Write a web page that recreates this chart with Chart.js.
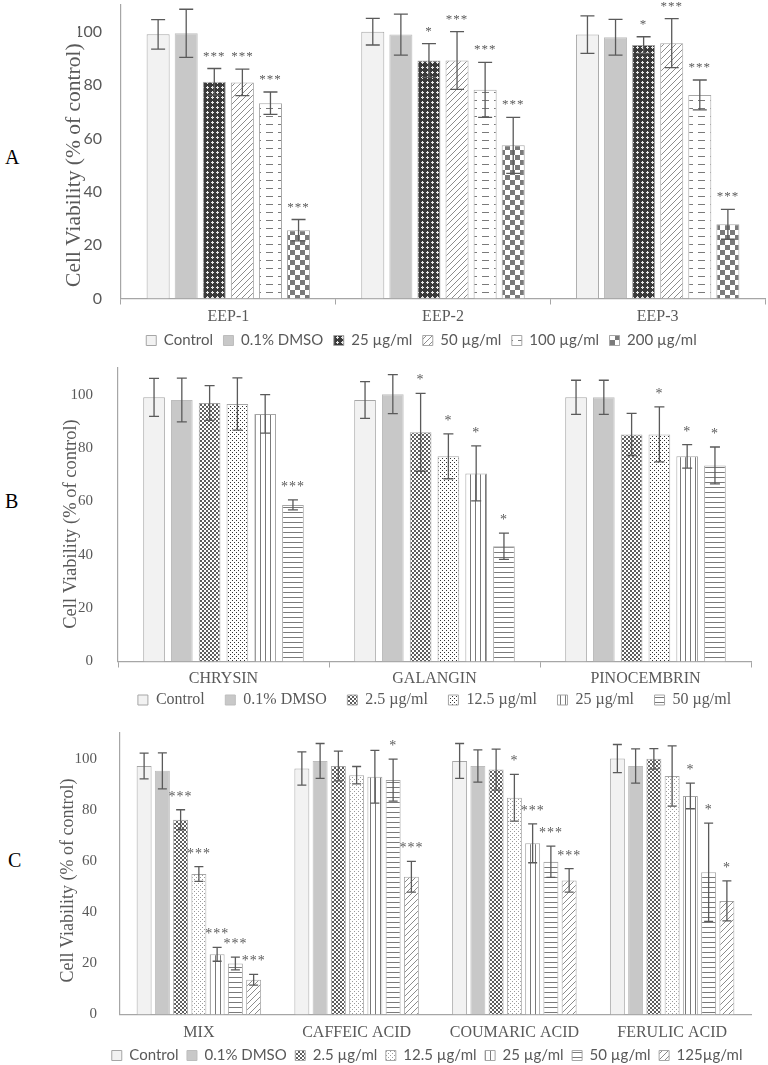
<!DOCTYPE html>
<html><head><meta charset="utf-8">
<script src="https://cdn.jsdelivr.net/npm/chart.js@4.4.1/dist/chart.umd.min.js"></script>
<style>
html,body{margin:0;padding:0;background:#fff;}
body{width:768px;height:1065px;position:relative;overflow:hidden;}
.wrap{position:absolute;left:0;width:768px;}
.letter{position:absolute;font-family:"Liberation Serif",serif;font-size:20px;color:#000;line-height:1;}
</style></head><body>
<div class="letter" style="left:5px;top:147px">A</div>
<div class="letter" style="left:5px;top:491px">B</div>
<div class="letter" style="left:8px;top:850px">C</div>
<div class="wrap" style="top:0;height:358px"><canvas id="cA"></canvas></div>
<div class="wrap" style="top:352px;height:366px"><canvas id="cB"></canvas></div>
<div class="wrap" style="top:717px;height:356px"><canvas id="cC"></canvas></div>
<script>
// ---------- DATA ----------
const catsA = ['EEP-1', 'EEP-2', 'EEP-3'];
const seriesA = ['Control', '0.1% DMSO', '25 µg/ml', '50 µg/ml', '100 µg/ml', '200 µg/ml'];
const valuesA = [[99, 100, 98.9], [99.4, 98.9, 97.9], [81.2, 89.2, 95], [81, 89.2, 95.7], [73.2, 78.2, 76.3], [25.6, 57.4, 27.8]];
const errorsA = [[5.5, 5, 7], [9, 7.7, 6.7], [5, 6.3, 3.1], [5, 10.8, 9.2], [4.2, 10.3, 5.6], [4, 10.5, 5.6]];
const sigA = [['', '', ''], ['', '', ''], ['***', '*', '*'], ['***', '***', '***'], ['***', '***', '***'], ['***', '***', '***']];

const catsB = ['CHRYSIN', 'GALANGIN', 'PINOCEMBRIN'];
const seriesB = ['Control', '0.1% DMSO', '2.5 µg/ml', '12.5 µg/ml', '25 µg/ml', '50 µg/ml'];
const valuesB = [[99, 98, 99], [98, 100.2, 99], [96.9, 85.9, 85.1], [96.5, 76.9, 85.1], [92.8, 70.5, 76.9], [58.7, 43.2, 73.5]];
const errorsB = [[7.1, 6.9, 6.4], [8.2, 7.3, 6.4], [6.5, 14.6, 7.9], [9.8, 8.4, 10.3], [7.2, 10.3, 4.4], [1.9, 4.9, 6.9]];
const sigB = [['', '', ''], ['', '', ''], ['', '*', ''], ['', '*', '*'], ['', '*', '*'], ['***', '*', '*']];

const catsC = ['MIX', 'CAFFEIC ACID', 'COUMARIC ACID', 'FERULIC ACID'];
const seriesC = ['Control', '0.1% DMSO', '2.5 µg/ml', '12.5 µg/ml', '25 µg/ml', '50 µg/ml', '125µg/ml'];
const valuesC = [[97.1, 96.1, 99.1, 100], [95.2, 99.1, 97.1, 97.1], [76.1, 97.1, 95.7, 99.9], [54.9, 93.5, 84.7, 93.2], [23.5, 92.9, 66.9, 85.4], [19.9, 91.6, 59.7, 55.6], [13.6, 53.8, 52.4, 44.4]];
const errorsC = [[5, 6.5, 6.8, 5.5], [7, 6.8, 6.3, 6.7], [3.9, 5.8, 8, 4], [2.9, 3.4, 9.1, 11.8], [2.7, 10.3, 7.6, 5], [2.5, 8.2, 6.1, 19.2], [2.1, 6, 4.6, 7.8]];
const sigC = [['', '', '', ''], ['', '', '', ''], ['***', '', '', ''], ['***', '', '*', ''], ['***', '', '***', '*'], ['***', '*', '***', '*'], ['***', '***', '***', '*']];

const yTitle = 'Cell Viability (% of control)';

// ---------- PATTERNS ----------
function pat(w, h, draw) {
  const c = document.createElement('canvas'); c.width = w; c.height = h;
  const g = c.getContext('2d'); draw(g, w, h);
  return g.createPattern(c, 'repeat');
}
const P = {
  control: '#f2f2f2',
  dmso: '#c8c8c8',
  darkGrid: pat(5, 5, g => { g.fillStyle = '#3a3a3a'; g.fillRect(0, 0, 5, 5); g.fillStyle = '#e8e8e8'; g.fillRect(1, 2, 3, 1); g.fillRect(2, 1, 1, 3); }),
  diag: pat(6, 6, g => { g.fillStyle = '#fff'; g.fillRect(0, 0, 6, 6); g.strokeStyle = '#8c8c8c'; g.lineWidth = 1;
    g.beginPath(); g.moveTo(-1, 7); g.lineTo(7, -1); g.moveTo(-1, 1); g.lineTo(1, -1); g.moveTo(5, 7); g.lineTo(7, 5); g.stroke(); }),
  hdash: pat(12, 8, g => { g.fillStyle = '#fff'; g.fillRect(0, 0, 12, 8); g.fillStyle = '#7a7a7a'; g.fillRect(2, 4, 7, 1); }),
  bigCheck: pat(10, 10, g => { g.fillStyle = '#fff'; g.fillRect(0, 0, 10, 10); g.fillStyle = '#7a7a7a'; g.fillRect(0, 0, 5, 5); g.fillRect(5, 5, 5, 5); }),
  smallCheck: pat(4, 4, g => { g.fillStyle = '#fff'; g.fillRect(0, 0, 4, 4); g.fillStyle = '#5e5e5e'; g.fillRect(0, 0, 2, 2); g.fillRect(2, 2, 2, 2); }),
  dots: pat(4, 4, g => { g.fillStyle = '#fff'; g.fillRect(0, 0, 4, 4); g.fillStyle = '#333'; g.fillRect(0, 0, 1, 1); g.fillRect(2, 2, 1, 1); }),
  lightDots: pat(4, 4, g => { g.fillStyle = '#fff'; g.fillRect(0, 0, 4, 4); g.fillStyle = '#9a9a9a'; g.fillRect(0, 0, 1, 1); g.fillRect(2, 2, 1, 1); }),
  vlines: pat(5, 1, g => { g.fillStyle = '#fff'; g.fillRect(0, 0, 5, 1); g.fillStyle = '#7a7a7a'; g.fillRect(0, 0, 1, 1); }),
  hlines: pat(1, 5, g => { g.fillStyle = '#fff'; g.fillRect(0, 0, 1, 5); g.fillStyle = '#7a7a7a'; g.fillRect(0, 0, 1, 1); })
};
const fillsA = [P.control, P.dmso, P.darkGrid, P.diag, P.hdash, P.bigCheck];
const fillsB = [P.control, P.dmso, P.smallCheck, P.dots, P.vlines, P.hlines];
const fillsC = [P.control, P.dmso, P.smallCheck, P.lightDots, P.vlines, P.hlines, P.diag];

// ---------- ERROR BARS + SIGNIFICANCE ----------
const errorBars = {
  id: 'errorBars',
  afterDatasetsDraw(chart, args, o) {
    const ctx = chart.ctx, ys = chart.scales.y;
    chart.data.datasets.forEach((ds, i) => {
      const meta = chart.getDatasetMeta(i);
      meta.data.forEach((bar, j) => {
        const v = ds.data[j], e = ds.err[j];
        const yt = ys.getPixelForValue(v + e), yb = ys.getPixelForValue(v - e), x = bar.x;
        ctx.save();
        ctx.strokeStyle = '#5a5a5a'; ctx.lineWidth = 1.3;
        ctx.beginPath();
        ctx.moveTo(x, yt); ctx.lineTo(x, yb);
        ctx.moveTo(x - o.cap, yt); ctx.lineTo(x + o.cap, yt);
        ctx.moveTo(x - o.cap, yb); ctx.lineTo(x + o.cap, yb);
        ctx.stroke();
        if (ds.sig[j]) {
          ctx.fillStyle = '#5a5a5a'; ctx.font = o.sigFont; ctx.textAlign = 'center'; ctx.textBaseline = 'alphabetic';
          ctx.letterSpacing = '1px';
          ctx.fillText(ds.sig[j], x, yt - o.sigGap);
        }
        ctx.restore();
      });
    });
  }
};

function panel(id, cats, names, vals, errs, sigs, fills, o) {
  const datasets = names.map((n, i) => ({
    label: n, data: vals[i], err: errs[i], sig: sigs[i],
    backgroundColor: fills[i], borderColor: i === 1 ? '#bdbdbd' : '#a6a6a6', borderWidth: 1,
    barPercentage: o.barPct, categoryPercentage: o.catPct
  }));
  const spacer = '\u00a0'.repeat(o.legSpace);
  return new Chart(document.getElementById(id), {
    type: 'bar',
    data: { labels: cats, datasets },
    plugins: [errorBars],
    options: {
      responsive: true, maintainAspectRatio: false, animation: false,
      layout: { padding: { left: o.left, right: o.right, top: o.top, bottom: 0 } },
      plugins: {
        tooltip: { enabled: false },
        legend: {
          position: 'bottom', fullSize: o.legFull, align: o.legAlign,
          labels: {
            boxWidth: 10, boxHeight: 10, padding: o.legPad, color: '#595959', font: o.legFont,
            generateLabels: chart => {
              const items = Chart.defaults.plugins.legend.labels.generateLabels(chart);
              items.forEach((it, k) => { if (k < items.length - 1) it.text = it.text + spacer; });
              return items;
            }
          }
        },
        errorBars: { cap: o.cap, sigFont: o.sigFont, sigGap: o.sigGap }
      },
      scales: {
        x: {
          grid: { display: o.xTicks, drawOnChartArea: false, drawTicks: o.xTicks, tickLength: 6, color: '#a6a6a6', offset: true },
          border: { display: true, color: '#a6a6a6', width: 1.2 },
          ticks: { color: '#595959', font: { family: 'Liberation Serif', size: 16 }, padding: o.xPad },
          afterFit: s => { s.height = o.xH; s.paddingLeft = 0; s.paddingRight = 0; }
        },
        y: {
          min: 0, max: 110,
          grid: { display: false },
          border: { display: true, color: '#a6a6a6', width: 1.2 },
          ticks: { stepSize: 20, color: '#595959', font: o.yFont, padding: o.yPad },
          afterBuildTicks: s => { s.ticks = s.ticks.filter(t => t.value <= 100); },
          title: { display: true, text: yTitle + '\u00a0'.repeat(o.titleTail), color: '#595959', font: { family: 'Liberation Serif', size: o.titleSize }, padding: { top: o.titlePadTop, bottom: 0 } },
          afterFit: s => { s.width = o.yW; s.paddingTop = 0; s.paddingBottom = 0; }
        }
      }
    }
  });
}

panel('cA', catsA, seriesA, valuesA, errorsA, sigA, fillsA, {
  left: 78, right: 3, top: 5, legPad: 10.5, legSpace: 0, legFull: true, legAlign: 'center', legFont: { family: 'Lato', size: 15 },
  cap: 7, sigFont: '13px "Liberation Serif"', sigGap: 9,
  barPct: 0.82, catPct: 0.785, xTicks: true, xPad: 3, xH: 24,
  yFont: { family: 'Lato', size: 16 }, yPad: 11, yW: 43,
  titleSize: 21.5, titlePadTop: -16.4, titleTail: 5
});
panel('cB', catsB, seriesB, valuesB, errorsB, sigB, fillsB, {
  left: 55, right: 17, top: 16, legPad: 8.5, legSpace: 3, legFull: false, legAlign: 'center', legFont: { family: 'Liberation Serif', size: 16 },
  cap: 5, sigFont: '14px "Liberation Serif"', sigGap: 9,
  barPct: 0.78, catPct: 0.79, xTicks: true, xPad: 2, xH: 22,
  yFont: { family: 'Liberation Serif', size: 15 }, yPad: 17, yW: 63,
  titleSize: 18.5, titlePadTop: 4.9, titleTail: 4
});
panel('cC', catsC, seriesC, valuesC, errorsC, sigC, fillsC, {
  left: 55, right: 17, top: 16, legPad: 8.5, legSpace: 0, legFull: true, legAlign: 'end', legFont: { family: 'Lato', size: 15 },
  cap: 4.5, sigFont: '14px "Liberation Serif"', sigGap: 9,
  barPct: 0.82, catPct: 0.81, xTicks: false, xPad: 9, xH: 25,
  yFont: { family: 'Liberation Serif', size: 15 }, yPad: 15, yW: 65,
  titleSize: 18, titlePadTop: 2.2, titleTail: 3
});
</script>
</body></html>
